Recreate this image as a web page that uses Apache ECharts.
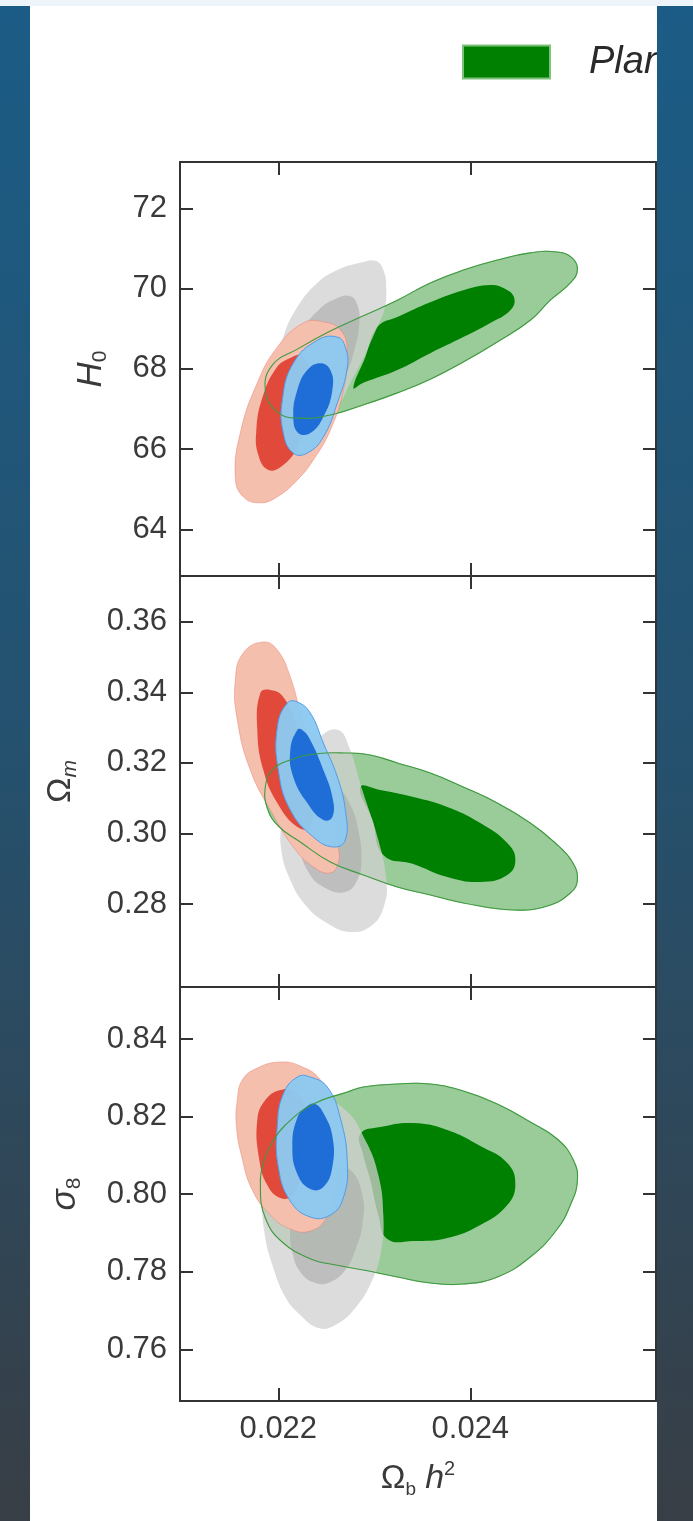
<!DOCTYPE html>
<html><head><meta charset="utf-8">
<script src="https://cdn.jsdelivr.net/npm/echarts@6/dist/echarts.min.js"></script>
<style>
html,body{margin:0;padding:0;}
body{width:693px;height:1521px;position:relative;overflow:hidden;background:linear-gradient(180deg,#1b5c86 0%,#25516e 50%,#383e45 100%);}
#topbar{position:absolute;left:0;top:0;width:693px;height:6px;background:#eef5fa;}
#chart{position:absolute;left:30px;top:6px;width:627px;height:1515px;background:#fff;overflow:hidden;}
</style></head><body>
<div id="topbar"></div><div id="chart"></div>
<script>
// ---- tick values / ranges ----
const xTicks = [0.022, 0.024];
const h0Ticks = [64, 66, 68, 70, 72];
const omTicks = [0.28, 0.30, 0.32, 0.34, 0.36];
const s8Ticks = [0.76, 0.78, 0.80, 0.82, 0.84];
const xRange = [0.020976, 0.025934];
const h0Range = [62.836, 73.154];
const omRange = [0.25647, 0.37295];
const s8Range = [0.74667, 0.85341];
const legendLabel = 'Planck 2018';

// ---- contour boundaries: [Omega_b h^2, parameter] ----
const h0GreenOuter = [[0.021865,67.47],[0.021938,68.09],[0.022198,68.49],[0.022542,68.94],[0.022885,69.32],[0.02324,69.71],[0.023583,70.14],[0.023927,70.46],[0.024281,70.71],[0.024625,70.89],[0.024906,70.91],[0.025063,70.76],[0.025115,70.46],[0.025042,70.14],[0.024833,69.71],[0.024625,69.21],[0.024281,68.67],[0.023927,68.17],[0.023583,67.74],[0.02324,67.40],[0.022885,67.10],[0.022542,66.85],[0.022229,66.77],[0.021990,66.92]];
const h0GreenInner = [[0.022781,67.52],[0.022906,68.29],[0.023031,69.04],[0.02324,69.29],[0.023583,69.66],[0.023927,69.96],[0.024208,70.09],[0.024365,69.99],[0.024458,69.76],[0.024417,69.46],[0.024208,69.14],[0.023927,68.79],[0.023583,68.39],[0.02324,67.97],[0.022885,67.65]];
const h0GreyOuter = [[0.022052,68.79],[0.022198,69.54],[0.022406,70.14],[0.022615,70.46],[0.022854,70.64],[0.02301,70.69],[0.023094,70.46],[0.023125,69.96],[0.023104,69.46],[0.023031,69.04],[0.022896,68.32],[0.02275,67.65],[0.022625,67.10],[0.022438,66.77],[0.022229,66.85],[0.022073,67.35],[0.022,68.09]];
const h0GreyInner = [[0.022229,68.84],[0.022417,69.46],[0.022594,69.74],[0.02275,69.81],[0.022823,69.59],[0.022844,69.14],[0.022792,68.47],[0.022688,67.80],[0.022542,67.42],[0.022365,67.52],[0.02225,68.09]];
const h0RedOuter = [[0.022469,69.17],[0.02226,69.14],[0.02199,68.54],[0.021781,67.65],[0.021604,66.40],[0.021552,65.30],[0.021635,64.81],[0.021813,64.66],[0.02199,64.81],[0.022198,65.23],[0.022365,65.73],[0.022542,66.47],[0.022677,67.47],[0.022719,68.47],[0.022646,68.97]];
const h0RedInner = [[0.021979,68.02],[0.022125,68.27],[0.02225,68.32],[0.022333,67.85],[0.022313,66.97],[0.022208,66.10],[0.022052,65.60],[0.021896,65.48],[0.021792,65.85],[0.021771,66.47],[0.021833,67.27]];
const h0BlueOuter = [[0.022615,68.79],[0.022406,68.71],[0.022156,68.14],[0.022042,67.22],[0.022052,66.40],[0.022156,65.90],[0.022302,65.90],[0.022469,66.30],[0.022615,67.15],[0.022719,68.04],[0.022698,68.54]];
const h0BlueInner = [[0.022438,68.14],[0.022302,67.97],[0.022198,67.47],[0.022156,66.80],[0.022208,66.40],[0.022333,66.40],[0.022469,66.80],[0.022563,67.47],[0.022542,67.97]];

const omGreenOuter = [[0.021865,0.31315],[0.021938,0.31797],[0.022125,0.32081],[0.022385,0.32251],[0.022698,0.32279],[0.022958,0.32222],[0.02324,0.31996],[0.023583,0.31712],[0.023927,0.31315],[0.024281,0.30862],[0.024625,0.30295],[0.024885,0.29728],[0.025063,0.2919],[0.025115,0.2868],[0.025042,0.28311],[0.024802,0.27943],[0.024448,0.2783],[0.023927,0.28028],[0.023583,0.28255],[0.02324,0.28481],[0.022885,0.28822],[0.022542,0.2919],[0.022229,0.29757],[0.022,0.3021],[0.021885,0.3072]];
const omGreenInner = [[0.022854,0.31315],[0.023063,0.3123],[0.023406,0.31032],[0.02376,0.30749],[0.024104,0.30295],[0.024385,0.29728],[0.024469,0.29247],[0.024385,0.28822],[0.024104,0.28623],[0.02376,0.28765],[0.023406,0.29133],[0.023094,0.29388],[0.022979,0.3038]];
const omGreyOuter = [[0.022042,0.3038],[0.022125,0.3123],[0.022281,0.32081],[0.022458,0.32789],[0.022625,0.32931],[0.022729,0.32506],[0.022875,0.3123],[0.023042,0.29813],[0.023125,0.2868],[0.023104,0.27972],[0.022979,0.27405],[0.02275,0.27206],[0.02249,0.2749],[0.022281,0.27972],[0.022125,0.2868],[0.022031,0.2953]];
const omGreyInner = [[0.022229,0.29672],[0.022281,0.3038],[0.022438,0.31089],[0.022625,0.3123],[0.02275,0.30805],[0.022833,0.30097],[0.022865,0.29247],[0.022823,0.2868],[0.022698,0.2834],[0.02249,0.28453],[0.022313,0.28906]];
const omRedOuter = [[0.021844,0.35425],[0.021635,0.35113],[0.021552,0.34348],[0.021573,0.33214],[0.021708,0.31797],[0.021917,0.30664],[0.022156,0.29615],[0.022365,0.29048],[0.022542,0.28878],[0.022625,0.29162],[0.022625,0.29615],[0.022542,0.30664],[0.022406,0.31996],[0.02226,0.33129],[0.022125,0.34433],[0.02199,0.35198]];
const omRedInner = [[0.021813,0.33979],[0.021917,0.34064],[0.022052,0.33866],[0.022198,0.33016],[0.022302,0.31996],[0.022365,0.30947],[0.022333,0.30182],[0.022198,0.30182],[0.02199,0.30862],[0.021844,0.31797],[0.021781,0.32931]];
const omBlueOuter = [[0.022094,0.33696],[0.02199,0.33016],[0.022,0.31797],[0.022125,0.30664],[0.022365,0.29898],[0.022573,0.29615],[0.022698,0.29813],[0.022698,0.30664],[0.022615,0.31599],[0.022469,0.32562],[0.022333,0.33413],[0.022198,0.33724]];
const omBlueInner = [[0.022198,0.32931],[0.022125,0.32364],[0.022156,0.31599],[0.022302,0.30862],[0.022469,0.3038],[0.022563,0.30465],[0.022563,0.31032],[0.022469,0.31797],[0.022333,0.32647],[0.02225,0.32931]];

const s8GreenOuter = [[0.021813,0.80236],[0.021854,0.8088],[0.021938,0.81344],[0.022073,0.81783],[0.022365,0.82324],[0.022719,0.82634],[0.022885,0.82762],[0.02324,0.8284],[0.023583,0.8284],[0.023927,0.82659],[0.024281,0.82324],[0.024625,0.8186],[0.024906,0.81422],[0.025073,0.8088],[0.025115,0.80339],[0.025042,0.7972],[0.024906,0.79101],[0.024625,0.78379],[0.024281,0.77864],[0.023927,0.77683],[0.023583,0.77709],[0.02324,0.77864],[0.022885,0.78044],[0.022542,0.78199],[0.022365,0.78302],[0.022052,0.7874],[0.021865,0.79385]];
const s8GreenInner = [[0.022854,0.81551],[0.023063,0.81731],[0.023406,0.81834],[0.02376,0.81654],[0.024104,0.81241],[0.024385,0.80803],[0.024469,0.80262],[0.024385,0.7972],[0.024104,0.79204],[0.02376,0.78869],[0.023406,0.78792],[0.023135,0.78843],[0.023042,0.79462],[0.022958,0.80365],[0.022885,0.81009]];
const s8GreyOuter = [[0.021833,0.79849],[0.021865,0.80623],[0.021969,0.81396],[0.022177,0.82041],[0.022438,0.82427],[0.022698,0.8217],[0.022906,0.81396],[0.023042,0.80494],[0.023094,0.79462],[0.023073,0.7856],[0.022979,0.77786],[0.022802,0.77064],[0.022594,0.76626],[0.022417,0.76549],[0.022229,0.76884],[0.022073,0.77348],[0.021938,0.78173],[0.021854,0.79024]];
const s8GreyInner = [[0.022125,0.79076],[0.022177,0.79849],[0.022333,0.80494],[0.022542,0.80751],[0.02275,0.80623],[0.022875,0.79978],[0.022875,0.79204],[0.022802,0.7856],[0.022698,0.78044],[0.022542,0.77735],[0.022385,0.77709],[0.022229,0.77993],[0.022146,0.78508]];
const s8RedOuter = [[0.021573,0.82427],[0.021625,0.82943],[0.021781,0.83252],[0.022021,0.83407],[0.022229,0.83304],[0.022438,0.82943],[0.022563,0.8217],[0.022604,0.81138],[0.022583,0.80107],[0.0225,0.79385],[0.022333,0.7905],[0.022125,0.79101],[0.021917,0.79462],[0.021729,0.80107],[0.021615,0.81009],[0.021563,0.81783]];
const s8RedInner = [[0.021781,0.81912],[0.021865,0.82427],[0.022021,0.82685],[0.022177,0.82634],[0.022281,0.8217],[0.022313,0.81396],[0.02226,0.80623],[0.022146,0.79978],[0.022021,0.79901],[0.021885,0.80236],[0.021802,0.8088]];
const s8BlueOuter = [[0.022198,0.8302],[0.022052,0.82582],[0.02199,0.81783],[0.022,0.807],[0.022125,0.79823],[0.022333,0.79411],[0.022542,0.79462],[0.022677,0.79901],[0.022719,0.80803],[0.022646,0.81963],[0.02251,0.82762],[0.022333,0.8302]];
const s8BlueInner = [[0.022302,0.82273],[0.022198,0.81963],[0.022146,0.81241],[0.022198,0.8052],[0.022333,0.80133],[0.022469,0.80184],[0.022563,0.807],[0.022563,0.81499],[0.022469,0.82092],[0.022385,0.82324]];

// ---- styles ----
const FONT = 'Liberation Sans, Arial, Helvetica, sans-serif';
const AX = '#333333';
const TXT = '#3a3a3a';
const STY = {
  greenOuter: {fill:'#99cc99', stroke:'#8cc48c', lineWidth:0.8},
  greenInner: {fill:'#008000'},
  greyOuter: {fill:'rgba(208,208,208,0.75)'},
  greyInner: {fill:'rgba(170,170,170,0.6)'},
  redOuter: {fill:'#f5bfae', stroke:'rgba(232,120,100,0.55)', lineWidth:0.8},
  redInner: {fill:'#e1493b'},
  blueOuter: {fill:'rgba(141,201,240,0.96)', stroke:'#4f9de8', lineWidth:1},
  blueInner: {fill:'#1f6ed8'},
  greenLine: {fill:null, stroke:'#3f9a3f', lineWidth:1.1}
};

const chart = echarts.init(document.getElementById('chart'), null, {renderer:'canvas'});

const gridBoxes = [
  {left:150, top:156, width:476, height:414},
  {left:150, top:570, width:476, height:411},
  {left:150, top:981, width:476, height:414}
];
const panels = [
  {range:h0Range, ticks:h0Ticks, fmt:v=>String(v), name:'{i|H}{s|0}', gap:69,
   sets:{greenOuter:h0GreenOuter, greenInner:h0GreenInner, greyOuter:h0GreyOuter, greyInner:h0GreyInner, redOuter:h0RedOuter, redInner:h0RedInner, blueOuter:h0BlueOuter, blueInner:h0BlueInner}},
  {range:omRange, ticks:omTicks, fmt:v=>v.toFixed(2), name:'{r|Ω}{si|m}', gap:99,
   sets:{greenOuter:omGreenOuter, greenInner:omGreenInner, greyOuter:omGreyOuter, greyInner:omGreyInner, redOuter:omRedOuter, redInner:omRedInner, blueOuter:omBlueOuter, blueInner:omBlueInner}},
  {range:s8Range, ticks:s8Ticks, fmt:v=>v.toFixed(2), name:'{i|σ}{s|8}', gap:95,
   sets:{greenOuter:s8GreenOuter, greenInner:s8GreenInner, greyOuter:s8GreyOuter, greyInner:s8GreyInner, redOuter:s8RedOuter, redInner:s8RedInner, blueOuter:s8BlueOuter, blueInner:s8BlueInner}}
];

const nameRich = {
  i:{fontSize:35, fontStyle:'italic', fontFamily:FONT, color:TXT, lineHeight:40},
  r:{fontSize:34, fontFamily:FONT, color:TXT, lineHeight:40},
  s:{fontSize:21, fontFamily:FONT, color:TXT, lineHeight:20, verticalAlign:'bottom'},
  si:{fontSize:21, fontStyle:'italic', fontFamily:FONT, color:TXT, lineHeight:20, verticalAlign:'bottom'},
  o:{fontSize:33, fontFamily:FONT, color:TXT, lineHeight:40},
  b:{fontSize:19, fontFamily:FONT, color:TXT, lineHeight:19, verticalAlign:'bottom'},
  h:{fontSize:34, fontStyle:'italic', fontFamily:FONT, color:TXT, lineHeight:40},
  p:{fontSize:20, fontFamily:FONT, color:TXT, lineHeight:19, verticalAlign:'top'}
};

const lineStyle = {color:AX, width:2};
const grid = [], xAxis = [], yAxis = [], series = [];

panels.forEach((pn, i) => {
  grid.push(Object.assign({containLabel:false, outerBoundsMode:'none'}, gridBoxes[i]));
  const last = i === panels.length - 1;
  // bottom x axis
  xAxis.push({
    type:'value', gridIndex:i, position:'bottom', min:xRange[0], max:xRange[1],
    axisLine:{show:true, onZero:false, lineStyle},
    axisTick:{show:true, inside:true, length:13, customValues:xTicks, lineStyle},
    axisLabel:{show:last, customValues:xTicks, formatter:v=>v.toFixed(3), fontSize:31, color:TXT, fontFamily:FONT, margin:13},
    splitLine:{show:false},
    name: last ? '{o|Ω}{b|b}{o| }{h|h}{p|2}' : '',
    nameLocation:'middle', nameGap:58, nameMoveOverlap:false,
    nameTextStyle:{rich:nameRich}
  });
  // top x axis
  xAxis.push({
    type:'value', gridIndex:i, position:'top', min:xRange[0], max:xRange[1],
    axisLine:{show:true, onZero:false, lineStyle},
    axisTick:{show:true, inside:true, length:13, customValues:xTicks, lineStyle},
    axisLabel:{show:false}, splitLine:{show:false}
  });
  // left y axis
  yAxis.push({
    type:'value', gridIndex:i, position:'left', min:pn.range[0], max:pn.range[1],
    axisLine:{show:true, onZero:false, lineStyle},
    axisTick:{show:true, inside:true, length:13, customValues:pn.ticks, lineStyle},
    axisLabel:{show:true, customValues:pn.ticks, formatter:pn.fmt, fontSize:31, color:TXT, fontFamily:FONT, margin:13},
    splitLine:{show:false},
    name:pn.name, nameLocation:'middle', nameRotate:90, nameGap:pn.gap, nameMoveOverlap:false,
    nameTextStyle:{rich:nameRich}
  });
  // right y axis
  yAxis.push({
    type:'value', gridIndex:i, position:'right', min:pn.range[0], max:pn.range[1],
    axisLine:{show:true, onZero:false, lineStyle},
    axisTick:{show:true, inside:true, length:13, customValues:pn.ticks, lineStyle},
    axisLabel:{show:false}, splitLine:{show:false}
  });

  const order = ['greenOuter','greenInner','greyOuter','greyInner','redOuter','redInner','blueOuter','blueInner'];
  const addPoly = (pts, style, name) => {
    series.push({
      type:'custom', name:name, coordinateSystem:'cartesian2d',
      xAxisIndex:2*i, yAxisIndex:2*i, data:pts, encode:{x:0, y:1},
      silent:true, animation:false,
      renderItem:(params, api) => {
        if (params.dataIndex !== 0) return null;
        const poly = pts.map(p => api.coord(p));
        return {type:'polygon', shape:{points:poly, smooth:0.45}, style:Object.assign({}, style)};
      }
    });
  };
  order.forEach(k => addPoly(pn.sets[k], STY[k], (i === 0 && k === 'greenOuter') ? legendLabel : (k + i)));
  addPoly(pn.sets.greenOuter, STY.greenLine, 'greenLine' + i);
});

chart.setOption({
  animation:false,
  backgroundColor:'#ffffff',
  grid, xAxis, yAxis, series,
  legend:{
    data:[{name:legendLabel, icon:'rect'}],
    left:432, top:37, padding:0, itemWidth:87, itemHeight:33, selectedMode:false,
    itemStyle:{color:'#008000', borderColor:'#7cc27c', borderWidth:2},
    textStyle:{fontSize:38, fontStyle:'italic', color:'#2a2a2a', fontFamily:FONT, padding:[0,0,6,34]}
  }
});
</script></body></html>
